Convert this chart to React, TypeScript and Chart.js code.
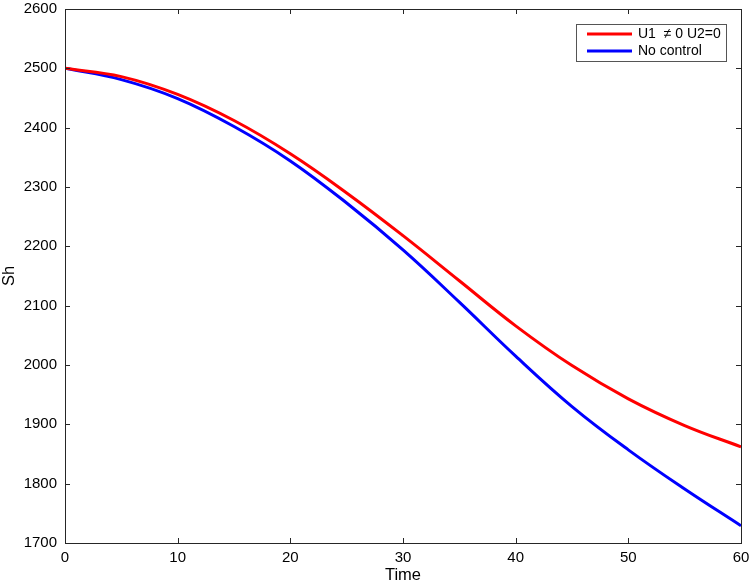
import React, { useEffect, useRef } from "react";
import { Chart, registerables } from "chart.js";

Chart.register(...registerables);

const TIME = [0, 5, 10, 15, 20, 25, 30, 35, 40, 45, 50, 55, 60];
const U1_CONTROL = [2500, 2486, 2456, 2412, 2356, 2290, 2218, 2142, 2066, 1999, 1943, 1898, 1862];
const NO_CONTROL = [2500, 2481, 2449, 2402, 2344, 2273, 2194, 2106, 2015, 1930, 1857, 1791, 1729];
const X_TICKS = [0, 10, 20, 30, 40, 50, 60];
const Y_TICKS = [1700, 1800, 1900, 2000, 2100, 2200, 2300, 2400, 2500, 2600];
const SERIES_LABELS = ["U1  \u2260 0 U2=0", "No control"];
const SERIES_COLORS = ["#ff0000", "#0000ff"];

const FONT = "'Liberation Sans', Arial, Helvetica, sans-serif";
const AXIS_COLOR = "#262626";

const boxAndTicks = {
  id: "boxAndTicks",
  afterDatasetsDraw(chart: any) {
    const { ctx, chartArea } = chart;
    const { left, right, top, bottom } = chartArea;
    const xs = chart.scales.x;
    const ys = chart.scales.y;
    ctx.save();
    ctx.strokeStyle = AXIS_COLOR;
    ctx.lineWidth = 1;
    ctx.beginPath();
    const tl = 5;
    X_TICKS.forEach((v) => {
      const px = Math.round(xs.getPixelForValue(v)) + 0.5;
      ctx.moveTo(px, bottom);
      ctx.lineTo(px, bottom - tl);
      ctx.moveTo(px, top);
      ctx.lineTo(px, top + tl);
    });
    Y_TICKS.forEach((v) => {
      const py = Math.round(ys.getPixelForValue(v)) + 0.5;
      ctx.moveTo(left, py);
      ctx.lineTo(left + tl, py);
      ctx.moveTo(right, py);
      ctx.lineTo(right - tl, py);
    });
    ctx.stroke();
    ctx.strokeRect(Math.round(left) + 0.5, Math.round(top) + 0.5, Math.round(right - left), Math.round(bottom - top));

    // legend
    const lx = 576.5, ly = 24.5, lw = 150, lh = 37;
    ctx.fillStyle = "#ffffff";
    ctx.fillRect(lx, ly, lw, lh);
    ctx.strokeStyle = "#555555";
    ctx.strokeRect(lx, ly, lw, lh);
    ctx.font = `14px ${FONT}`;
    ctx.textBaseline = "middle";
    ctx.textAlign = "left";
    chart.data.datasets.forEach((ds: any, i: number) => {
      const yy = 34 + i * 17;
      ctx.strokeStyle = ds.borderColor;
      ctx.lineWidth = 3;
      ctx.beginPath();
      ctx.moveTo(587, yy);
      ctx.lineTo(632, yy);
      ctx.stroke();
      ctx.fillStyle = "#000000";
      ctx.fillText(ds.label, 638, yy + 0.5);
    });
    ctx.restore();
  },
};

export default function App() {
  const ref = useRef<HTMLCanvasElement>(null);
  useEffect(() => {
    document.body.style.margin = "0";
    const chart = new Chart(ref.current!, {
      type: "line",
      data: {
        datasets: [
          {
            label: SERIES_LABELS[0],
            data: TIME.map((t, i) => ({ x: t, y: U1_CONTROL[i] })),
            borderColor: SERIES_COLORS[0],
            borderWidth: 3,
            pointRadius: 0,
            tension: 0.4,
            fill: false,
          },
          {
            label: SERIES_LABELS[1],
            data: TIME.map((t, i) => ({ x: t, y: NO_CONTROL[i] })),
            borderColor: SERIES_COLORS[1],
            borderWidth: 3,
            pointRadius: 0,
            tension: 0.4,
            fill: false,
          },
        ],
      },
      options: {
        responsive: false,
        animation: false,
        layout: { padding: { left: 0, right: 9, top: 9, bottom: 0 } },
        plugins: { legend: { display: false }, tooltip: { enabled: false } },
        scales: {
          x: {
            type: "linear",
            min: 0,
            max: 60,
            afterBuildTicks: (s: any) => {
              s.ticks = X_TICKS.map((v) => ({ value: v }));
            },
            afterFit: (s: any) => {
              s.height = 43;
              s.paddingLeft = 0;
              s.paddingRight = 0;
            },
            ticks: {
              color: "#000",
              font: { family: FONT, size: 15 },
              padding: 6,
              maxRotation: 0,
              callback: (v: any) => String(v),
            },
            grid: { display: false, drawTicks: false },
            border: { display: false },
            title: {
              display: true,
              text: "Time",
              color: "#000",
              font: { family: FONT, size: 16.5 },
              padding: { top: 0, bottom: 1 },
            },
          },
          y: {
            type: "linear",
            min: 1700,
            max: 2600,
            afterBuildTicks: (s: any) => {
              s.ticks = Y_TICKS.map((v) => ({ value: v }));
            },
            afterFit: (s: any) => {
              s.width = 65;
              s.paddingTop = 0;
              s.paddingBottom = 0;
            },
            ticks: {
              color: "#000",
              font: { family: FONT, size: 15 },
              padding: 8,
              callback: (v: any) => String(v),
            },
            grid: { display: false, drawTicks: false },
            border: { display: false },
            title: {
              display: true,
              text: "Sh",
              color: "#000",
              font: { family: FONT, size: 16.5 },
              padding: { top: 0, bottom: 0 },
            },
          },
        },
      },
      plugins: [boxAndTicks],
    } as any);
    return () => chart.destroy();
  }, []);
  return (
    <div style={{ position: "absolute", left: 0, top: 0, width: 750, height: 586, background: "#fff" }}>
      <canvas ref={ref} width={750} height={586} style={{ width: 750, height: 586, display: "block" }} />
    </div>
  );
}
